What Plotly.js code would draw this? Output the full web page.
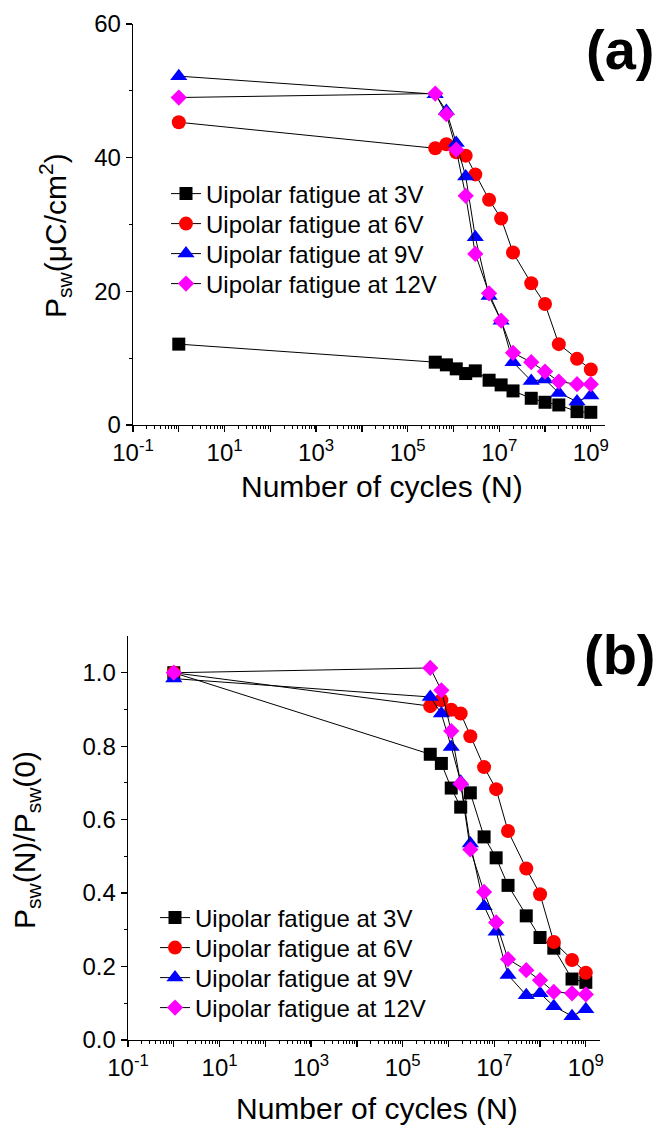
<!DOCTYPE html>
<html>
<head>
<meta charset="utf-8">
<script src="https://cdn.plot.ly/plotly-3.0.1.min.js"></script>
<style>html,body{margin:0;padding:0;background:#fff;}#chart{width:662px;height:1130px;}</style>
</head>
<body>
<div id="chart"></div>
<script>
// Number of cycles
var cycles = [1, 4e5, 7e5, 1.15e6, 1.85e6, 3e6, 6e6, 1.1e7, 2e7, 5e7, 1e8, 2e8, 5e8, 1e9];

// (a) switchable polarization, uC/cm^2
var psw3V  = [12.1, 9.4, 9.0, 8.4, 7.7, 8.1, 6.7, 6.0, 5.1, 4.0, 3.4, 3.0, 2.0, 1.9];
var psw6V  = [45.3, 41.4, 42.0, 40.8, 40.3, 37.5, 33.7, 30.9, 25.8, 21.2, 18.1, 12.1, 9.9, 8.3];
var psw9V  = [52.2, 49.5, 47.0, 42.2, 37.2, 28.1, 19.3, 15.6, 9.4, 6.6, 6.8, 4.8, 3.5, 4.4];
var psw12V = [49.0, 49.6, 46.5, 41.2, 34.3, 25.6, 19.7, 15.6, 10.8, 9.4, 8.0, 6.5, 6.1, 6.1];

// (b) normalized Psw(N)/Psw(0)
var norm3V  = [1.0, 0.778, 0.753, 0.686, 0.634, 0.673, 0.553, 0.496, 0.421, 0.338, 0.279, 0.250, 0.166, 0.157];
var norm6V  = [1.0, 0.909, 0.925, 0.899, 0.889, 0.827, 0.743, 0.683, 0.569, 0.467, 0.397, 0.267, 0.218, 0.183];
var norm9V  = [0.984, 0.934, 0.889, 0.798, 0.703, 0.535, 0.364, 0.295, 0.177, 0.122, 0.127, 0.092, 0.065, 0.084];
var norm12V = [1.0, 1.013, 0.952, 0.841, 0.698, 0.519, 0.403, 0.320, 0.220, 0.190, 0.163, 0.131, 0.127, 0.124];

var seriesNames = ["Uipolar fatigue at 3V", "Uipolar fatigue at 6V", "Uipolar fatigue at 9V", "Uipolar fatigue at 12V"];

// tick labels
var decadeVals = [0.1, 1, 10, 100, 1e3, 1e4, 1e5, 1e6, 1e7, 1e8, 1e9];
var decadeText = ["10<sup>-1</sup>", "", "10<sup>1</sup>", "", "10<sup>3</sup>", "", "10<sup>5</sup>", "", "10<sup>7</sup>", "", "10<sup>9</sup>"];
var yTopVals = [0, 20, 40, 60];
var yBotVals = [0, 0.2, 0.4, 0.6, 0.8, 1.0];
var yBotText = ["0.0", "0.2", "0.4", "0.6", "0.8", "1.0"];

var minorX = [];
decadeVals.forEach(function (d) { for (var k = 2; k <= 9; k++) { if (d * k < 2e9) minorX.push(d * k); } });

var styles = [
  {symbol: "square", color: "#000000", size: 13},
  {symbol: "circle", color: "#ff0000", size: 14},
  {symbol: "triangle-up", color: "#0000ff", size: 15},
  {symbol: "diamond", color: "#ff00ff", size: 12.5}
];

var topData = [psw3V, psw6V, psw9V, psw12V];
var botData = [norm3V, norm6V, norm9V, norm12V];
var traces = [];
topData.forEach(function (ys, i) {
  traces.push({
    x: cycles, y: ys, xaxis: "x", yaxis: "y", type: "scatter", mode: "lines+markers",
    name: seriesNames[i], legend: i === 0 ? "legend" : "legend" + (i + 1),
    line: {color: "#000000", width: 1},
    marker: {symbol: styles[i].symbol, color: styles[i].color, size: styles[i].size, line: {width: 0}}
  });
});
botData.forEach(function (ys, i) {
  traces.push({
    x: cycles, y: ys, xaxis: "x2", yaxis: "y2", type: "scatter", mode: "lines+markers",
    name: seriesNames[i], legend: "legend" + (i + 5),
    line: {color: "#000000", width: 1},
    marker: {symbol: styles[i].symbol, color: styles[i].color, size: styles[i].size, line: {width: 0}}
  });
});

var W = 662, H = 1130;
function px(x) { return x / W; }
function py(y) { return 1 - y / H; }

var font = "Arial, 'Liberation Sans', Helvetica, sans-serif";
var baseAxis = {
  showline: true, linecolor: "#000", linewidth: 1.3, mirror: false,
  ticks: "outside", ticklen: 6, tickwidth: 1.3, tickcolor: "#000",
  showgrid: false, zeroline: false,
  tickfont: {family: font, size: 24, color: "#000"}
};
function xAxis(domain, anchor) {
  return Object.assign({}, baseAxis, {
    type: "log", range: [-1, 9.31], domain: domain, anchor: anchor,
    tickmode: "array", tickvals: decadeVals, ticktext: decadeText,
    minor: {tickmode: "array", tickvals: minorX, ticks: "outside", ticklen: 3, tickwidth: 1, tickcolor: "#000", showgrid: false}
  });
}
function legendAt(x, y) {
  return {
    x: px(x), y: py(y), xanchor: "left", yanchor: "middle",
    bgcolor: "rgba(0,0,0,0)", borderwidth: 0,
    font: {family: font, size: 24, color: "#000"}, itemsizing: "trace"
  };
}

var layout = {
  width: W, height: H,
  margin: {l: 0, r: 0, t: 0, b: 0},
  paper_bgcolor: "#fff", plot_bgcolor: "rgba(0,0,0,0)",
  showlegend: true,
  font: {family: font, color: "#000"},
  xaxis: xAxis([px(133), px(605)], "y"),
  yaxis: Object.assign({}, baseAxis, {
    range: [0, 60], domain: [py(425), py(24)], anchor: "x",
    tickmode: "array", tickvals: yTopVals,
    minor: {tickmode: "array", tickvals: [10, 30, 50], ticks: "outside", ticklen: 3, tickwidth: 1, tickcolor: "#000", showgrid: false}
  }),
  xaxis2: xAxis([px(128), px(600)], "y2"),
  yaxis2: Object.assign({}, baseAxis, {
    range: [0, 1.1], domain: [py(1040), py(636)], anchor: "x2",
    tickmode: "array", tickvals: yBotVals, ticktext: yBotText,
    minor: {tickmode: "array", tickvals: [0.1, 0.3, 0.5, 0.7, 0.9], ticks: "outside", ticklen: 3, tickwidth: 1, tickcolor: "#000", showgrid: false}
  }),
  legend: legendAt(166, 194),
  legend2: legendAt(166, 224),
  legend3: legendAt(166, 254),
  legend4: legendAt(166, 284),
  legend5: legendAt(155, 918),
  legend6: legendAt(155, 948),
  legend7: legendAt(155, 978),
  legend8: legendAt(155, 1008),
  annotations: [
    {text: "Number of cycles (N)", xref: "paper", yref: "paper", x: px(382), y: py(486), xanchor: "center", yanchor: "middle", showarrow: false, font: {family: font, size: 30, color: "#000"}},
    {text: "Number of cycles (N)", xref: "paper", yref: "paper", x: px(377), y: py(1108), xanchor: "center", yanchor: "middle", showarrow: false, font: {family: font, size: 30, color: "#000"}},
    {text: "P<sub>sw</sub>(\u03bcC/cm<sup>2</sup>)", xref: "paper", yref: "paper", x: px(55), y: py(236), xanchor: "center", yanchor: "middle", textangle: -90, showarrow: false, font: {family: font, size: 30, color: "#000"}},
    {text: "P<sub>sw</sub>(N)/P<sub>sw</sub>(0)", xref: "paper", yref: "paper", x: px(26), y: py(840), xanchor: "center", yanchor: "middle", textangle: -90, showarrow: false, font: {family: font, size: 30, color: "#000"}},
    {text: "<b>(a)</b>", xref: "paper", yref: "paper", x: px(620), y: py(50), xanchor: "center", yanchor: "middle", showarrow: false, font: {family: font, size: 56, color: "#000"}},
    {text: "<b>(b)</b>", xref: "paper", yref: "paper", x: px(620), y: py(654), xanchor: "center", yanchor: "middle", showarrow: false, font: {family: font, size: 56, color: "#000"}}
  ]
};

Plotly.newPlot("chart", traces, layout, {displayModeBar: false, staticPlot: true});
</script>
</body>
</html>
